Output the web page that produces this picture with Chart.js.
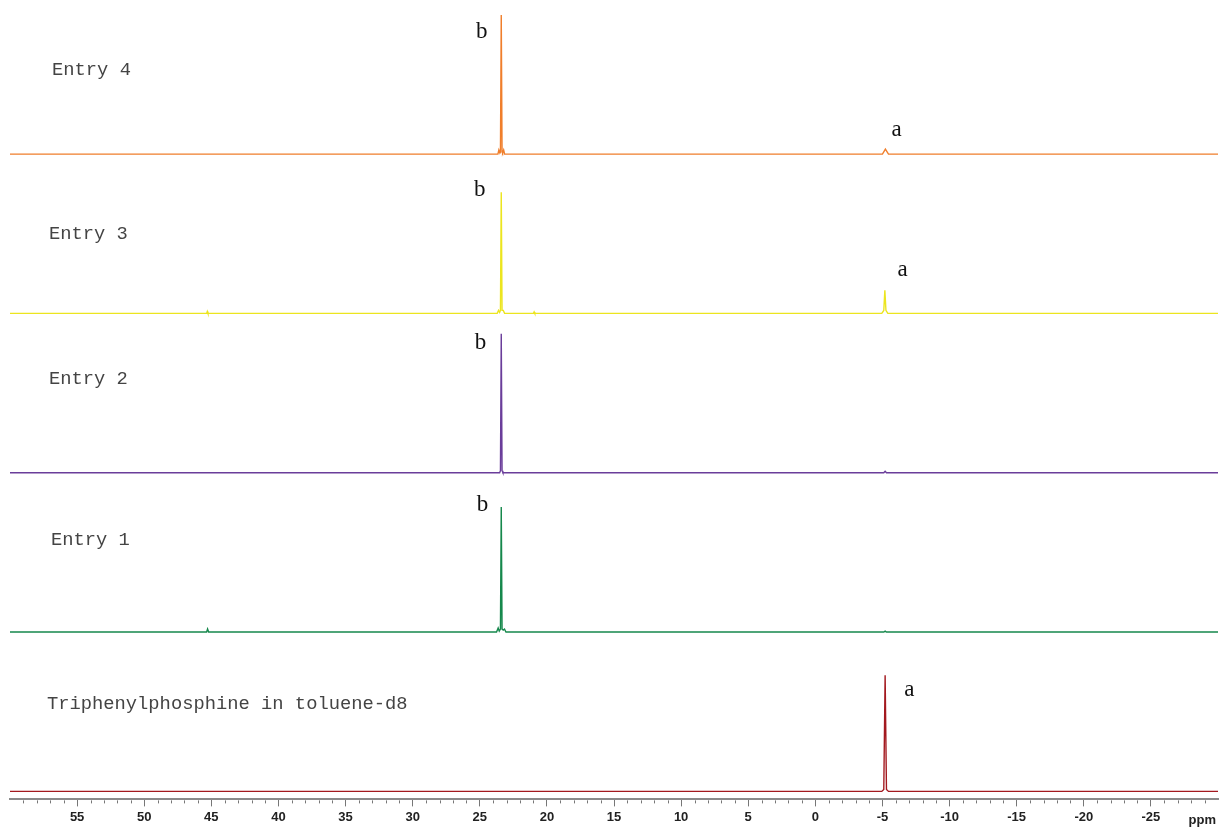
<!DOCTYPE html>
<html><head><meta charset="utf-8">
<script src="https://cdn.jsdelivr.net/npm/chart.js@4.4.1/dist/chart.umd.min.js"></script>
<style>html,body{margin:0;padding:0;background:#fff;}#wrap{width:1221px;height:828px;position:relative;}</style>
</head><body><div id="wrap"><canvas id="c"></canvas></div>
<script>
// ---- data (ppm, intensity) ----
const spectrumNames = ['Triphenylphosphine in toluene-d8', 'Entry 1', 'Entry 2', 'Entry 3', 'Entry 4'];
const tppSpectrum = [[60,0],[-4.95,0],[-5.1,2],[-5.2,116],[-5.3,2],[-5.45,0],[-30,0]];
const entry1Spectrum = [[60,0],[45.35,0],[45.28,3],[45.2,0],[23.75,0],[23.63,4],[23.55,1],[23.46,3],[23.4,125],[23.34,3],[23.25,2],[23.16,3],[23.05,0],[-5.1,0],[-5.2,1],[-5.3,0],[-30,0]];
const entry2Spectrum = [[60,0],[23.52,0],[23.46,2],[23.4,139],[23.34,2],[23.28,0],[-5.1,0],[-5.2,1.5],[-5.3,0],[-30,0]];
const entry3Spectrum = [[60,0],[45.35,0],[45.3,2],[45.25,0],[23.7,0],[23.6,3],[23.52,1],[23.46,3],[23.4,121],[23.34,3],[23.25,3],[23.15,0],[21.0,0],[20.95,1.5],[20.9,0],[-4.95,0],[-5.1,3],[-5.18,23],[-5.26,3],[-5.4,0],[-30,0]];
const entry4Spectrum = [[60,0],[23.65,0],[23.58,4],[23.5,1],[23.46,2],[23.4,139],[23.34,2],[23.3,1],[23.22,4],[23.15,0],[-5.0,0],[-5.22,5],[-5.45,0],[-30,0]];
const spectra = [tppSpectrum, entry1Spectrum, entry2Spectrum, entry3Spectrum, entry4Spectrum];
const majorTicks = [55,50,45,40,35,30,25,20,15,10,5,0,-5,-10,-15,-20,-25];
const axisUnit = 'ppm';
// peak labels: [spectrum index, text, ppm, height above baseline]
const peakLabels = [[4,'b',24.85,122],[4,'a',-6.05,24],[3,'b',25.0,123],[3,'a',-6.5,43],[2,'b',24.95,130],[1,'b',24.8,127],[0,'a',-7.0,101]];
// ---- layout / style ----
const colors = ['#a3191f','#16884c','#6a3d9a','#ece51f','#f07e2b'];
const spacing = 159.25;
const nameLabelPos = [[57.25,87],[56.95,92],[57.1,94],[57.1,79],[56.87,84]];

const datasets = spectra.map((s,i)=>({
  label: spectrumNames[i],
  data: s.map(([p,v])=>({x:p,y:i*spacing+v})),
  borderColor: colors[i], borderWidth: 1.4, pointRadius: 0, tension: 0, fill: false
}));

const annot = {
  id:'annot',
  afterDraw(chart){
    const {ctx, scales:{x,y}} = chart;
    ctx.save();
    // minor ticks
    ctx.strokeStyle='#777'; ctx.lineWidth=1;
    for(let v=-29; v<=59; v++){
      if(v%5===0) continue;
      const px=Math.round(x.getPixelForValue(v))+0.5;
      ctx.beginPath(); ctx.moveTo(px,x.top+1); ctx.lineTo(px,x.top+4); ctx.stroke();
    }
    // unit
    ctx.fillStyle='#222'; ctx.font='bold 13px "Liberation Sans", Arial, sans-serif';
    ctx.textAlign='center'; ctx.textBaseline='middle';
    ctx.fillText(axisUnit, x.getPixelForValue(-28.83), x.top+21);
    // names
    ctx.fillStyle='#444'; ctx.font='18.8px "Liberation Mono", "Courier New", monospace';
    ctx.textAlign='left';
    spectrumNames.forEach((n,i)=>{
      const [p,h]=nameLabelPos[i];
      ctx.fillText(n, x.getPixelForValue(p), y.getPixelForValue(i*spacing+h));
    });
    // peak labels
    ctx.fillStyle='#111'; ctx.font='23px "Liberation Serif", "DejaVu Serif", serif';
    ctx.textAlign='center';
    peakLabels.forEach(([i,t,p,h])=>{
      ctx.fillText(t, x.getPixelForValue(p), y.getPixelForValue(i*spacing+h));
    });
    ctx.restore();
  }
};

new Chart(document.getElementById('c'), {
  type:'line',
  data:{datasets},
  options:{
    responsive:true, maintainAspectRatio:false, animation:false,
    layout:{padding:{left:10,right:3,top:0,bottom:0}},
    plugins:{legend:{display:false}, tooltip:{enabled:false}},
    scales:{
      x:{type:'linear', reverse:true, min:-30, max:60, position:'bottom',
        border:{display:true,color:'#8a8a8a',width:2},
        grid:{display:true,drawOnChartArea:false,drawTicks:true,tickLength:7,color:'#777',lineWidth:1},
        afterBuildTicks(scale){ scale.ticks = majorTicks.map(v=>({value:v})); },
        ticks:{includeBounds:false, autoSkip:false, maxRotation:0, padding:3, color:'#222',
          font:{family:'"Liberation Sans", Arial, sans-serif', size:13, weight:'bold'}}
      },
      y:{type:'linear', display:false, min:-8, max:791}
    }
  },
  plugins:[annot]
});
</script></body></html>
